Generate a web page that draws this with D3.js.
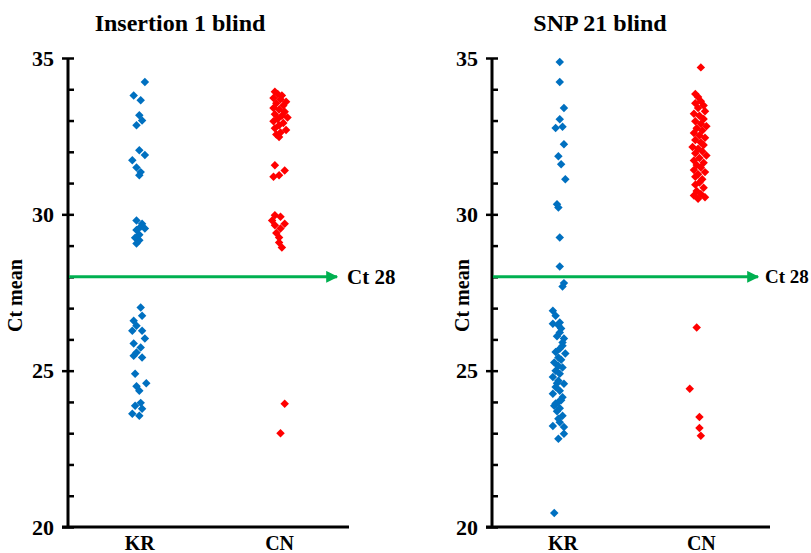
<!DOCTYPE html>
<html lang="en">
<head>
<meta charset="utf-8">
<title>Ct mean - Insertion 1 / SNP 21 blind</title>
<script src="https://d3js.org/d3.v7.min.js"></script>
<style>
  body { margin: 0; background: #fff; }
  svg text { font-family: "Liberation Serif", "Times New Roman", serif; font-weight: bold; fill: #000; }
</style>
</head>
<body>
<svg id="chart" width="811" height="553"></svg>
<script>
  // Categories, ticks, labels
  const groups = ["KR", "CN"];
  const majorTicks = [20, 25, 30, 35];
  const cutoff = 28;
  const cutoffLabel = "Ct 28";
  const titles = ["Insertion 1 blind", "SNP 21 blind"];
  const yLabel = "Ct mean";

  // Points: [horizontal position in group units (KR = 1, CN = 2), Ct mean]
  const insKR = [
    [1.04,34.23],[0.96,33.8],[1.01,33.65],[1.0,33.17],[1.02,33.0],[0.98,32.85],[1.0,32.05],[1.04,31.9],
    [0.95,31.73],[0.98,31.5],[1.01,31.35],[1.0,31.25],[0.98,29.8],[1.02,29.7],[1.01,29.6],[0.98,29.5],
    [1.04,29.55],[1.0,29.35],[0.97,29.25],[1.0,29.17],[0.98,29.07],
    [1.01,27.02],[1.02,26.76],[0.96,26.6],[0.98,26.44],[0.95,26.28],[1.02,26.28],[1.04,26.03],[0.96,25.87],
    [1.01,25.74],[0.98,25.58],[0.96,25.48],[1.02,25.42],[0.97,24.9],[1.05,24.6],[0.98,24.5],[1.0,24.36],
    [1.01,23.97],[0.97,23.88],[1.02,23.78],[0.95,23.62],[1.0,23.56]
  ];
  const insCN = [
    [1.97,33.92],[1.99,33.85],[2.02,33.8],[1.96,33.72],[2.01,33.68],[2.05,33.6],[1.98,33.55],[2.03,33.48],
    [1.96,33.4],[2.0,33.35],[2.04,33.28],[1.97,33.2],[2.02,33.15],[2.06,33.1],[1.99,33.05],[1.96,32.98],
    [2.03,32.92],[2.0,32.85],[1.97,32.75],[2.05,32.7],[2.01,32.62],[1.98,32.55],[2.0,32.47],
    [1.97,31.57],[2.04,31.4],[1.96,31.2],[2.0,31.25],
    [1.97,29.97],[2.01,29.92],[1.95,29.8],[2.04,29.7],[1.97,29.65],[2.01,29.55],[1.98,29.4],[2.0,29.26],
    [2.0,29.1],[2.02,28.94],
    [2.04,23.94],[2.01,23.0]
  ];
  const snpKR = [
    [0.98,34.87],[0.98,34.23],[1.01,33.4],[0.98,33.04],[0.95,32.76],[1.0,32.8],[1.01,32.24],[0.97,31.86],
    [0.99,31.6],[1.02,31.12],[0.96,30.32],[0.97,30.22],[0.98,29.26],[0.98,28.33],[1.01,27.8],[1.0,27.69],
    [0.93,26.92],[0.95,26.76],[0.98,26.54],[0.93,26.5],[0.97,26.45],[0.99,26.35],[0.98,26.22],[0.96,26.1],
    [1.01,26.03],[1.0,25.9],[1.0,25.8],[0.98,25.7],[0.95,25.6],[1.02,25.55],[0.97,25.42],[0.99,25.35],
    [0.94,25.26],[0.97,25.15],[1.0,25.1],[0.95,25.0],[0.98,24.9],[0.93,24.8],[0.97,24.68],[0.96,24.6],
    [1.01,24.58],[0.95,24.48],[0.98,24.36],[0.93,24.26],[1.0,24.15],[0.99,24.05],[0.97,24.0],[0.95,23.95],
    [0.94,23.88],[0.98,23.8],[0.96,23.7],[1.0,23.56],[0.97,23.46],[0.98,23.35],[0.93,23.23],[1.01,23.2],
    [1.01,22.98],[0.97,22.82],[0.94,20.45]
  ];
  const snpCN = [
    [2.0,34.7],
    [1.96,33.85],[1.98,33.75],[2.0,33.62],[1.96,33.55],[2.02,33.48],[1.98,33.4],[2.03,33.3],[1.95,33.22],
    [1.99,33.15],[2.02,33.05],[1.96,32.98],[2.0,32.9],[2.04,32.82],[1.97,32.75],[2.01,32.68],[1.95,32.6],
    [1.99,32.52],[2.03,32.45],[1.96,32.38],[2.0,32.3],[2.02,32.22],[1.94,32.15],[1.98,32.1],[2.01,32.02],
    [1.96,31.95],[2.04,31.88],[1.99,31.8],[1.95,31.72],[2.02,31.65],[1.97,31.58],[2.0,31.5],[1.95,31.42],
    [2.03,31.35],[1.98,31.28],[1.96,31.2],[2.01,31.12],[1.99,31.02],[1.96,30.95],[2.02,30.85],[1.97,30.75],
    [2.0,30.65],[1.95,30.6],[2.03,30.55],[1.98,30.5],
    [1.97,26.38],[1.92,24.42],[1.99,23.52],[1.99,23.17],[2.0,22.92]
  ];

  const colors = { KR: "#0070C0", CN: "#FF0000" };
  const arrowColor = "#00B050";

  // Layout of the two panels
  const panels = [
    { title: titles[0], KR: insKR, CN: insCN, x0: 68, x1: 349, titleX: 180, labelX: 15, cutX: 347, cutSize: 21 },
    { title: titles[1], KR: snpKR, CN: snpCN, x0: 492, x1: 770, titleX: 600, labelX: 462, cutX: 765, cutSize: 19 }
  ];
  const yTop = 58, yBottom = 527;

  const svg = d3.select("#chart");

  svg.append("defs").append("marker")
      .attr("id", "arrowhead")
      .attr("viewBox", "0 0 10 10")
      .attr("refX", 9).attr("refY", 5)
      .attr("markerWidth", 4).attr("markerHeight", 4)
      .attr("orient", "auto")
      .append("path")
      .attr("d", "M0,0L10,5L0,10Z")
      .attr("fill", arrowColor);

  const diamond = d3.symbol(d3.symbolSquare, 36);

  panels.forEach(p => {
    const g = svg.append("g");

    const x = d3.scaleLinear().domain([0.49, 2.5]).range([p.x0, p.x1]);
    const y = d3.scaleLinear().domain([20, 35]).range([yBottom, yTop]);

    // title
    g.append("text")
        .attr("x", p.titleX).attr("y", 31)
        .attr("text-anchor", "middle")
        .style("font-size", "24px")
        .text(p.title);

    // y label
    g.append("text")
        .attr("transform", `translate(${p.labelX},${y(27.4)}) rotate(-90)`)
        .attr("text-anchor", "middle")
        .attr("dominant-baseline", "central")
        .style("font-size", "20px")
        .text(yLabel);

    // minor ticks (inside)
    const minor = g.append("g")
        .attr("transform", `translate(${p.x0},0)`)
        .call(d3.axisRight(y).ticks(15).tickSize(6).tickFormat(""));
    minor.select(".domain").remove();
    minor.selectAll("line").attr("stroke", "#000").attr("stroke-width", 2.5);

    // major ticks with labels
    const major = g.append("g")
        .attr("transform", `translate(${p.x0},0)`)
        .call(d3.axisLeft(y).tickValues(majorTicks).tickSize(6).tickPadding(8));
    major.select(".domain").remove();
    major.selectAll("line").attr("stroke", "#000").attr("stroke-width", 2.5);
    major.selectAll("text")
        .style("font-family", "'Liberation Serif', 'Times New Roman', serif")
        .style("font-weight", "bold")
        .style("font-size", "22px");

    // y axis line
    g.append("line")
        .attr("x1", p.x0).attr("x2", p.x0)
        .attr("y1", y(35)).attr("y2", y(20))
        .attr("stroke", "#000").attr("stroke-width", 3);

    // x axis with group labels
    const xa = g.append("g")
        .attr("transform", `translate(0,${yBottom})`)
        .call(d3.axisBottom(x).tickValues([1, 2]).tickFormat(v => groups[v - 1])
          .tickSize(0).tickPadding(9));
    xa.select(".domain").attr("stroke", "#000").attr("stroke-width", 3)
        .attr("d", `M${p.x0 - 6},0H${p.x1}`);
    xa.selectAll("text")
        .style("font-family", "'Liberation Serif', 'Times New Roman', serif")
        .style("font-weight", "bold")
        .style("font-size", "20px");

    // cutoff arrow
    g.append("line")
        .attr("x1", p.x0 + 1).attr("x2", p.x1 - 12)
        .attr("y1", y(cutoff)).attr("y2", y(cutoff))
        .attr("stroke", arrowColor).attr("stroke-width", 3)
        .attr("marker-end", "url(#arrowhead)");
    g.append("text")
        .attr("x", p.cutX).attr("y", y(cutoff))
        .attr("dominant-baseline", "central")
        .style("font-size", p.cutSize + "px")
        .text(cutoffLabel);

    // points
    groups.forEach(k => {
      g.selectAll(null)
          .data(p[k])
          .enter()
          .append("path")
          .attr("d", diamond)
          .attr("transform", d => `translate(${x(d[0])},${y(d[1])}) rotate(45)`)
          .attr("fill", colors[k]);
    });
  });
</script>
</body>
</html>
